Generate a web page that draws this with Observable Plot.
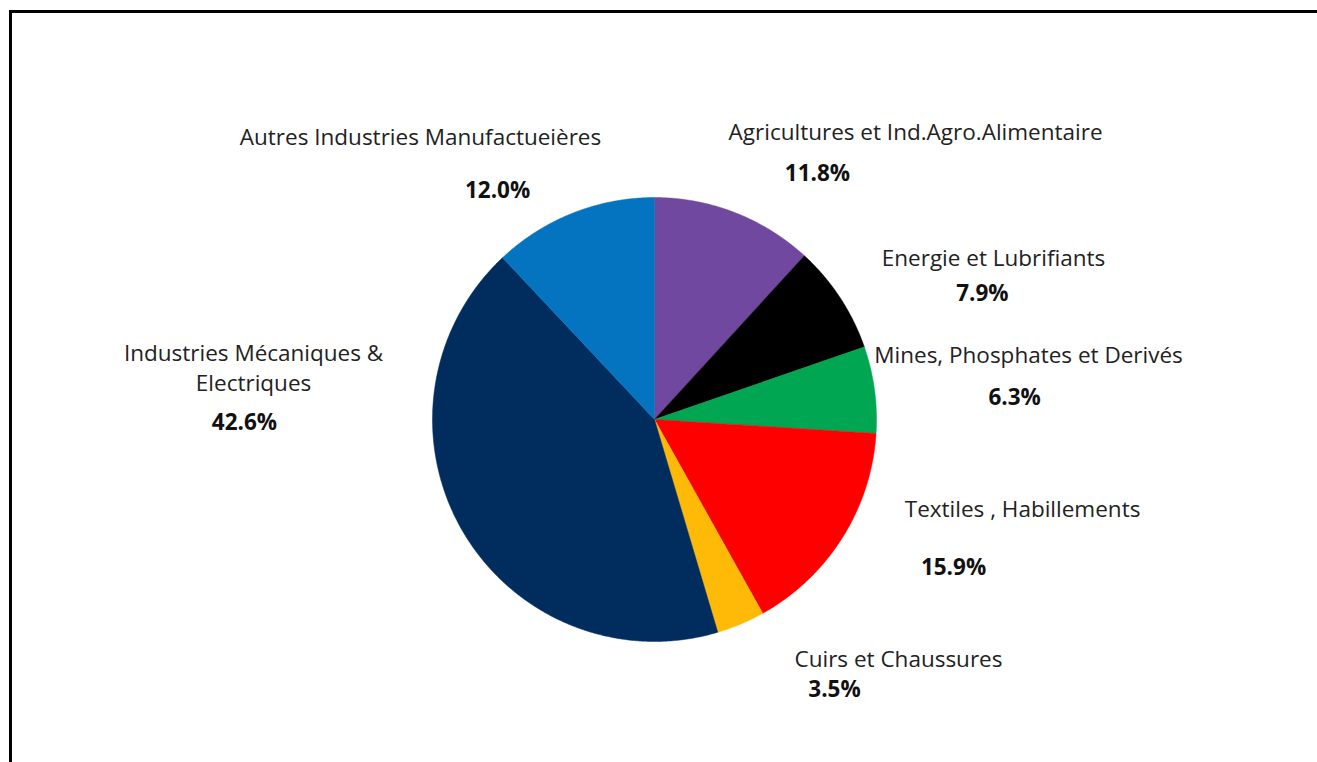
<!DOCTYPE html>
<html>
<head>
<meta charset="utf-8">
<script src="https://cdn.jsdelivr.net/npm/d3@7"></script>
<script src="https://cdn.jsdelivr.net/npm/@observablehq/plot@0.6"></script>
<style>
  html, body { margin: 0; padding: 0; background: #fff; width: 1317px; height: 762px; overflow: hidden; }
  #frame { position: absolute; left: 9px; top: 10px; right: 0; bottom: 0; border-top: 3px solid #000; border-left: 3px solid #000; }
  #chart { position: absolute; left: 0; top: 0; }
</style>
</head>
<body>
<div id="frame"></div>
<div id="chart"></div>
<script>
// ---- data (clockwise from 12 o'clock) ----
const categories = [
  "Agricultures et Ind.Agro.Alimentaire",
  "Energie et Lubrifiants",
  "Mines, Phosphates et Derivés",
  "Textiles , Habillements",
  "Cuirs et Chaussures",
  "Industries Mécaniques &\nElectriques",
  "Autres Industries Manufactueières"
];
const values = [11.8, 7.9, 6.3, 15.9, 3.5, 42.6, 12.0];
const colors = ["#7048A0", "#000000", "#00A651", "#FF0000", "#FFBA08", "#002C5E", "#0474C0"];

// ---- layout: label anchors in pie-radius units (x right, y up) ----
const namePos = [[1.176, 1.302], [1.527, 0.734], [1.685, 0.297], [1.658, -0.396], [1.099, -1.072], [-1.806, 0.239], [-1.054, 1.279]];
const pctPos  = [[0.734, 1.108], [1.477, 0.568], [1.622, 0.099], [1.347, -0.667], [0.811, -1.216], [-1.847, -0.014], [-0.707, 1.032]];

const W = 1317, H = 762, R = 222, CX = 654, CY = 419;

const pie = d3.pie().sort(null).value(d => d)(values);
const slices = pie.map((p, i) => {
  const pts = [{x: 0, y: 0}];
  const n = Math.max(4, Math.ceil((p.endAngle - p.startAngle) / 0.005));
  for (let k = 0; k <= n; k++) {
    const a = p.startAngle + (p.endAngle - p.startAngle) * k / n;
    pts.push({x: Math.sin(a), y: Math.cos(a)});
  }
  pts.push({x: 0, y: 0});
  return {pts, color: colors[i]};
});

const labels = categories.map((c, i) => ({name: c, x: namePos[i][0], y: namePos[i][1]}));
const pcts = values.map((v, i) => ({t: v.toFixed(1) + "%", x: pctPos[i][0], y: pctPos[i][1]}));

const chart = Plot.plot({
  width: W, height: H,
  margin: 0,
  style: {background: "transparent", fontFamily: "'Open Sans', Lato, sans-serif"},
  x: {domain: [-CX / R, (W - CX) / R], axis: null},
  y: {domain: [-(H - CY) / R, CY / R], axis: null},
  marks: [
    ...slices.map(s => Plot.line(s.pts, {x: "x", y: "y", fill: s.color, stroke: s.color, strokeWidth: 0.5, curve: "linear"})),
    Plot.text(labels, {x: "x", y: "y", text: "name", fontSize: 22.5, fill: "#222", lineHeight: 1.33}),
    Plot.text(pcts, {x: "x", y: "y", text: "t", fontSize: 22.5, fontWeight: "bold", fill: "#111"})
  ]
});
document.getElementById("chart").appendChild(chart);
</script>
</body>
</html>
